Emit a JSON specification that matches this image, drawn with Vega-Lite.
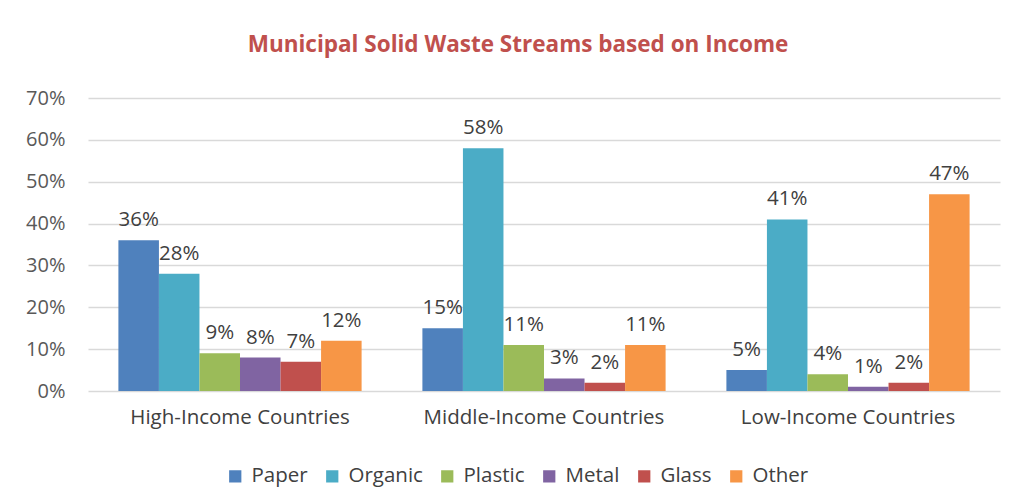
{
  "$schema": "https://vega.github.io/schema/vega-lite/v6.json",
  "width": 912,
  "height": 293,
  "autosize": {"type": "none"},
  "padding": {"left": 88, "top": 98, "right": 14, "bottom": 113},
  "background": "white",
  "config": {
    "font": "Open Sans",
    "view": {"stroke": null}
  },
  "title": {
    "text": "Municipal Solid Waste Streams based on Income",
    "fontSize": 22.5,
    "fontWeight": "bold",
    "color": "#C0504D",
    "font": "Open Sans",
    "anchor": "middle",
    "dx": -26,
    "offset": 32
  },
  "data": {
    "values": [
      {"income": "High-Income Countries", "type": "Paper", "value": 0.36},
      {"income": "High-Income Countries", "type": "Organic", "value": 0.28},
      {"income": "High-Income Countries", "type": "Plastic", "value": 0.09},
      {"income": "High-Income Countries", "type": "Metal", "value": 0.08},
      {"income": "High-Income Countries", "type": "Glass", "value": 0.07},
      {"income": "High-Income Countries", "type": "Other", "value": 0.12},
      {"income": "Middle-Income Countries", "type": "Paper", "value": 0.15},
      {"income": "Middle-Income Countries", "type": "Organic", "value": 0.58},
      {"income": "Middle-Income Countries", "type": "Plastic", "value": 0.11},
      {"income": "Middle-Income Countries", "type": "Metal", "value": 0.03},
      {"income": "Middle-Income Countries", "type": "Glass", "value": 0.02},
      {"income": "Middle-Income Countries", "type": "Other", "value": 0.11},
      {"income": "Low-Income Countries", "type": "Paper", "value": 0.05},
      {"income": "Low-Income Countries", "type": "Organic", "value": 0.41},
      {"income": "Low-Income Countries", "type": "Plastic", "value": 0.04},
      {"income": "Low-Income Countries", "type": "Metal", "value": 0.01},
      {"income": "Low-Income Countries", "type": "Glass", "value": 0.02},
      {"income": "Low-Income Countries", "type": "Other", "value": 0.47}
    ]
  },
  "encoding": {
    "x": {
      "field": "income",
      "type": "nominal",
      "sort": ["High-Income Countries", "Middle-Income Countries", "Low-Income Countries"],
      "scale": {"paddingInner": 0.2, "paddingOuter": 0.1},
      "axis": {
        "title": null,
        "labelAngle": 0,
        "labelFontSize": 20.5,
        "labelColor": "#404040",
        "labelPadding": 16,
        "labelLimit": 0,
        "ticks": false,
        "domain": false
      }
    },
    "xOffset": {
      "field": "type",
      "type": "nominal",
      "sort": ["Paper", "Organic", "Plastic", "Metal", "Glass", "Other"],
      "scale": {"paddingInner": 0, "paddingOuter": 0}
    },
    "y": {
      "field": "value",
      "type": "quantitative",
      "scale": {"domain": [0, 0.7], "nice": false},
      "axis": {
        "title": null,
        "values": [0, 0.1, 0.2, 0.3, 0.4, 0.5, 0.6, 0.7],
        "format": ".0%",
        "labelFontSize": 20,
        "labelColor": "#595959",
        "labelPadding": 23,
        "ticks": false,
        "domain": false,
        "gridColor": "#D9D9D9",
        "gridWidth": 1.5
      }
    }
  },
  "layer": [
    {
      "mark": {"type": "bar"},
      "encoding": {
        "color": {
          "field": "type",
          "type": "nominal",
          "sort": ["Paper", "Organic", "Plastic", "Metal", "Glass", "Other"],
          "scale": {
            "domain": ["Paper", "Organic", "Plastic", "Metal", "Glass", "Other"],
            "range": ["#4F81BD", "#4BACC6", "#9BBB59", "#8064A2", "#C0504D", "#F79646"]
          },
          "legend": {
            "title": null,
            "orient": "none",
            "direction": "horizontal",
            "legendX": 137,
            "legendY": 368,
            "symbolType": "square",
            "symbolSize": 150,
            "symbolStrokeWidth": 0,
            "symbolOpacity": 1,
            "labelFontSize": 20.5,
            "labelColor": "#404040",
            "labelOffset": 6,
            "columnPadding": 14
          }
        }
      }
    },
    {
      "mark": {"type": "text", "baseline": "bottom", "dy": -10, "fontSize": 20.5, "color": "#404040"},
      "encoding": {
        "text": {"field": "value", "type": "quantitative", "format": ".0%"}
      }
    }
  ]
}
